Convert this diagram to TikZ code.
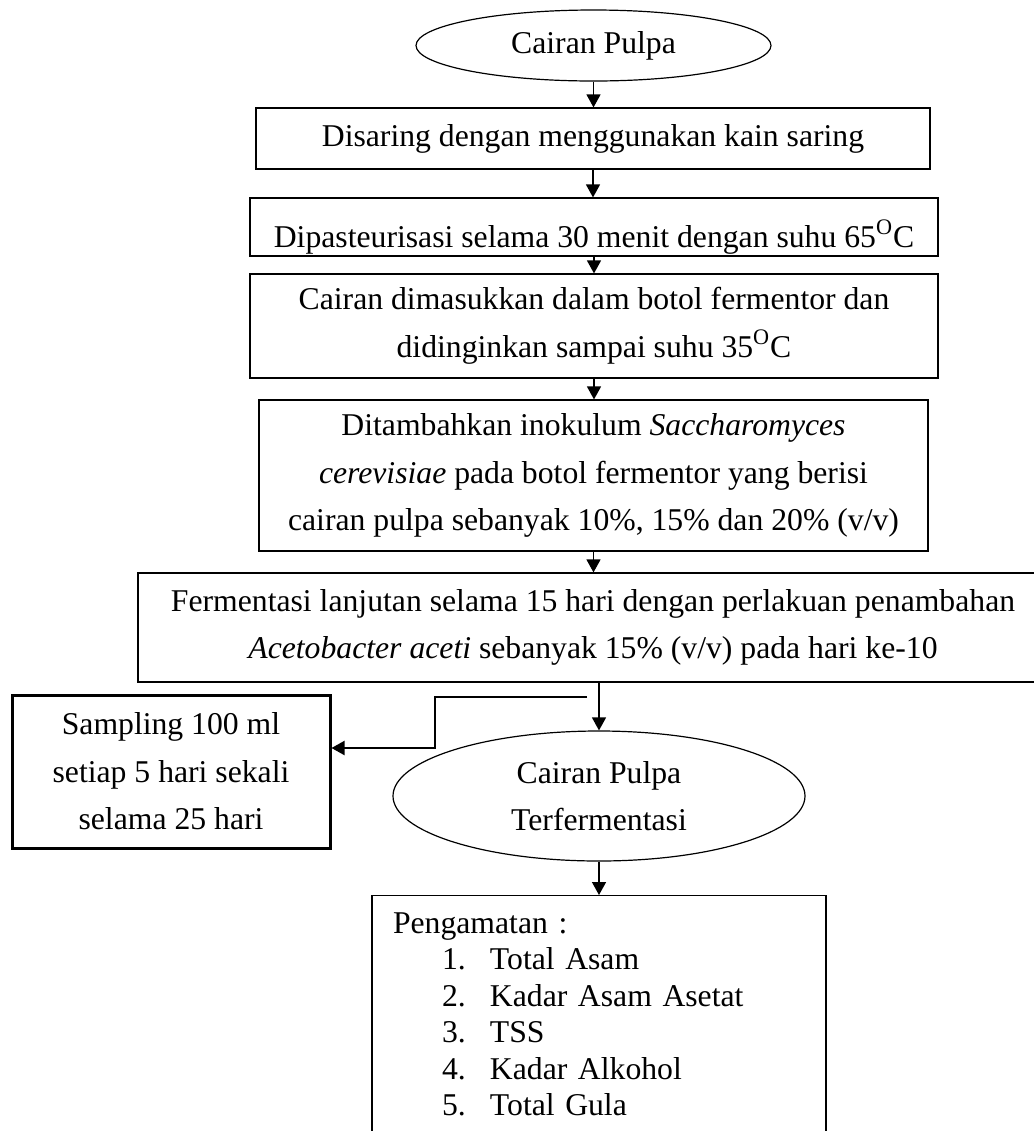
\documentclass[tikz,border=0pt]{standalone}
\usepackage{fontspec}
\setmainfont{Liberation Serif}
\usepackage{tikz}
\usetikzlibrary{arrows.meta, positioning, shapes.geometric}
\newcommand{\flowfont}{\fontsize{15.85pt}{23.75pt}\selectfont}
\newcommand{\listfont}{\fontsize{15.85pt}{18.25pt}\selectfont}
\newcommand{\obsitem}[2]{\hspace*{24.5pt}\makebox[24pt][l]{#1.}#2}
\tikzset{
	stepbox/.style={draw, line width=0.6pt, rectangle, inner sep=0pt, align=center, font=\flowfont},
	termnode/.style={draw, line width=0.6pt, ellipse, inner sep=0pt, align=center, font=\flowfont},
	flowarr/.style={-{Triangle[length=6.5pt, width=7pt]}, line width=0.7pt},
	sidearr/.style={-{Triangle[length=6.5pt, width=7pt]}, line width=1pt},
}

\begin{document}
\begin{tikzpicture}[
		x=0.5pt, y=-0.5pt,
		obsbox/.style={draw, line width=0.6pt, anchor=north, align=left, text width=206pt, inner xsep=10.5pt, inner ysep=8.5pt, font=\listfont},
		>=Stealth
		]
		\useasboundingbox (0,0) rectangle (1034,1131);
		\clip (0,0) rectangle (1034,1131);
		\node[termnode, minimum width=177.5pt, minimum height=35.5pt] (pulpa) at (593.5,45.5) {Cairan Pulpa};
		\node[stepbox, minimum width=337pt, minimum height=30.5pt] (saring) at (593,138.5) {Disaring dengan menggunakan kain saring};
		\node[stepbox, minimum width=344pt, minimum height=29pt, text height=24.5pt, text depth=4.5pt] (pasteur) at (594,227) {Dipasteurisasi selama 30 menit dengan suhu 65\textsuperscript{O}C};
		\node[stepbox, minimum width=344pt, minimum height=52pt] (dingin) at (594,326) {Cairan dimasukkan dalam botol fermentor dan\\didinginkan sampai suhu 35\textsuperscript{O}C};
		\node[stepbox, minimum width=334.5pt, minimum height=75.5pt] (inokulum) at (593.5,475.5) {Ditambahkan inokulum \textit{Saccharomyces}\\\textit{cerevisiae} pada botol fermentor yang berisi\\cairan pulpa sebanyak 10\%, 15\% dan 20\% (v/v)};
		\node[stepbox, minimum width=455pt, minimum height=54.5pt] (lanjut) at (593,627.5) {Fermentasi lanjutan selama 15 hari dengan perlakuan penambahan\\\textit{Acetobacter aceti} sebanyak 15\% (v/v) pada hari ke-10};
		\node[stepbox, line width=1.5pt, minimum width=159pt, minimum height=76.5pt] (sampel) at (171,771.5) {Sampling 100 ml\\setiap 5 hari sekali\\selama 25 hari};
		\node[termnode, minimum width=206pt, minimum height=65pt] (hasil) at (599,796) {Cairan Pulpa\\Terfermentasi};
		\node[obsbox] (obs) at (599,895) {Pengamatan :\\
			\obsitem{1}{Total Asam}\\
			\obsitem{2}{Kadar Asam Asetat}\\
			\obsitem{3}{TSS}\\
			\obsitem{4}{Kadar Alkohol}\\
			\obsitem{5}{Total Gula}\rule[-20pt]{0pt}{0pt}};
		% alur utama
		\draw[flowarr] (pulpa.south) -- (pulpa.south |- saring.north);
		\draw[flowarr] (saring.south) -- (saring.south |- pasteur.north);
		\draw[flowarr] (pasteur.south) -- (pasteur.south |- dingin.north);
		\draw[flowarr] (dingin.south) -- (dingin.south |- inokulum.north);
		\draw[flowarr] (inokulum.south) -- (inokulum.south |- lanjut.north);
		\draw[flowarr] (lanjut.south -| hasil.north) -- (hasil.north);
		\draw[flowarr] (hasil.south) -- (obs.north);
		% cabang sampling
		\coordinate (cabang) at (587,697);
		\coordinate (siku) at (435,748);
		\draw[sidearr] (cabang) -| (siku) -- (siku -| sampel.east);
	\end{tikzpicture}
\end{document}
